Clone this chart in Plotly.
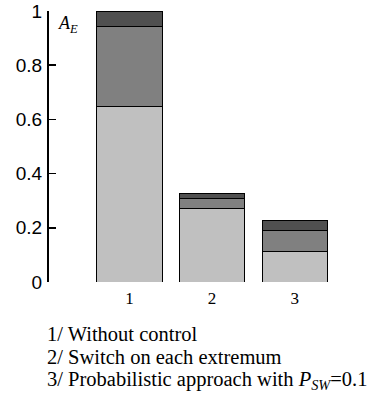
import plotly.graph_objects as go

categories = [1, 2, 3]
tick_labels = ["1", "2", "3"]
seg_light = [0.647, 0.272, 0.114]
seg_mid = [0.297, 0.036, 0.076]
seg_dark = [0.056, 0.019, 0.037]
y_ticks = [0, 0.2, 0.4, 0.6, 0.8, 1]
legend_lines = [
    "1/ Without control",
    "2/ Switch on each extremum",
    "3/ Probabilistic approach with <i>P</i><sub><i>SW</i></sub>=0.1",
]

colors = ["#c0c0c0", "#808080", "#505050"]
SERIF = "Times New Roman, Liberation Serif, serif"
SANS = "Arial, Liberation Sans, sans-serif"

fig = go.Figure()
for vals, col in zip([seg_light, seg_mid, seg_dark], colors):
    fig.add_trace(go.Bar(
        x=categories, y=vals, width=0.79,
        marker=dict(color=col, line=dict(color="black", width=1)),
        showlegend=False, hoverinfo="skip",
    ))

W, H = 369, 397
ml, mt = 49, 11
pw, ph = 296, 271
mr = W - ml - pw
mb = H - mt - ph

fig.update_layout(
    width=W, height=H,
    margin=dict(l=ml, r=mr, t=mt, b=mb, pad=0, autoexpand=False),
    barmode="stack",
    plot_bgcolor="white", paper_bgcolor="white",
    xaxis=dict(
        range=[0.024, 3.61], showline=False, showgrid=False, zeroline=False,
        automargin=False,
        tickmode="array", tickvals=categories, ticktext=tick_labels,
        ticks="", tickfont=dict(family=SERIF, size=17, color="black"),
        ticklabelstandoff=4,
    ),
    yaxis=dict(
        range=[0, 1], showline=True, linecolor="black", linewidth=2,
        showgrid=False, zeroline=False, automargin=False,
        tickmode="array", tickvals=y_ticks,
        ticktext=[("%g" % v) for v in y_ticks],
        ticks="inside", ticklen=7, tickwidth=1.5, tickcolor="black",
        tickfont=dict(family=SANS, size=19, color="black"),
        ticklabelstandoff=1,
    ),
)

def px_x(p):
    return (p - ml) / pw

def px_y(p):
    return (mt + ph - p) / ph

fig.add_annotation(
    x=px_x(56), y=px_y(25), xref="paper", yref="paper",
    xanchor="left", yanchor="middle", showarrow=False,
    text="<i>A</i><sub><i>E</i></sub>",
    font=dict(family=SERIF, size=18, color="black"),
)

for i, line in enumerate(legend_lines):
    fig.add_annotation(
        x=px_x(45), y=px_y(334 + 23 * i), xref="paper", yref="paper",
        xanchor="left", yanchor="middle", showarrow=False,
        text=line,
        font=dict(family=SERIF, size=20.5, color="black"),
    )

fig.write_html(
    "out.html",
    config={"displayModeBar": False, "staticPlot": True},
    post_script="document.body.style.margin='0';document.body.style.overflow='hidden';",
)
